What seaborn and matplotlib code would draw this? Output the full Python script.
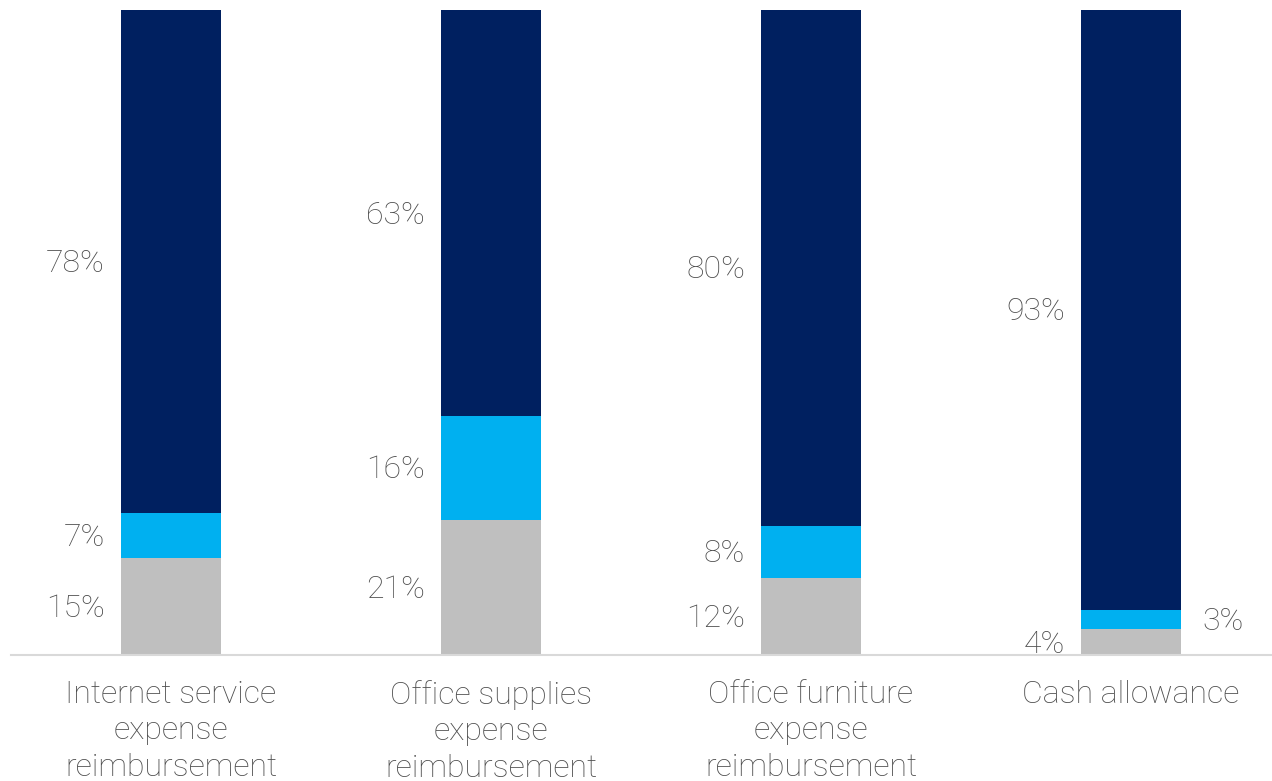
import matplotlib
matplotlib.use("Agg")
import matplotlib.pyplot as plt
import seaborn as sns
import pandas as pd
import numpy as np

categories = ["Internet service\nexpense\nreimbursement",
              "Office supplies\nexpense\nreimbursement",
              "Office furniture\nexpense\nreimbursement",
              "Cash allowance"]
bottom_vals = [15, 21, 12, 4]
middle_vals = [7, 16, 8, 3]
top_vals = [78, 63, 80, 93]

colors = {"bottom": "#BFBFBF", "middle": "#00B0F0", "top": "#002060"}
text_color = "#4D4D4D"

sns.set_theme(style="white")
plt.rcParams["font.family"] = ["Roboto", "DejaVu Sans"]

W, H = 1272, 781
fig = plt.figure(figsize=(W / 100, H / 100), dpi=100)
# axes spans 320 px per category; baseline at y=655, top at y=10
ax = fig.add_axes([11 / W, (H - 655) / H, 1280 / W, 645 / H])

df = pd.DataFrame({"cat": categories, "bottom": bottom_vals,
                   "middle": middle_vals, "top": top_vals})
df["mid_cum"] = df["bottom"] + df["middle"]
df["top_cum"] = df["mid_cum"] + df["top"]

bw = 100 / 320
sns.barplot(data=df, x="cat", y="top_cum", color=colors["top"], width=bw,
            saturation=1, ax=ax, linewidth=0)
sns.barplot(data=df, x="cat", y="mid_cum", color=colors["middle"], width=bw,
            saturation=1, ax=ax, linewidth=0)
sns.barplot(data=df, x="cat", y="bottom", color=colors["bottom"], width=bw,
            saturation=1, ax=ax, linewidth=0)

fs = 23
fw = "light"
ax.set_xlim(-0.5, 3.5)
ax.set_ylim(0, 100)
ax.set_xlabel("")
ax.set_ylabel("")
ax.set_yticks([])
ax.tick_params(axis="x", length=0, pad=18)
for lbl in ax.get_xticklabels():
    lbl.set_fontsize(fs)
    lbl.set_fontweight(fw)
    lbl.set_color(text_color)
    lbl.set_linespacing(1.32)
    lbl.set_verticalalignment("top")
for s in ["top", "right", "left"]:
    ax.spines[s].set_visible(False)
ax.spines["bottom"].set_color("#D9D9D9")
ax.spines["bottom"].set_linewidth(1.5)

gap = 16 / 320
dy = -0.3  # nudge labels slightly below segment centre
for i in range(len(categories)):
    left = i - bw / 2 - gap
    segs = [(0, bottom_vals[i]), (bottom_vals[i], middle_vals[i]),
            (bottom_vals[i] + middle_vals[i], top_vals[i])]
    for j, (start, val) in enumerate(segs):
        y = start + val / 2 + dy
        if i == 3 and j == 1:
            ax.text(i + bw / 2 + 21 / 320, y, f"{val}%", ha="left", va="center",
                    fontsize=fs, fontweight=fw, color=text_color)
        else:
            ax.text(left, y, f"{val}%", ha="right", va="center",
                    fontsize=fs, fontweight=fw, color=text_color)

fig.savefig("out.png", dpi=100)
